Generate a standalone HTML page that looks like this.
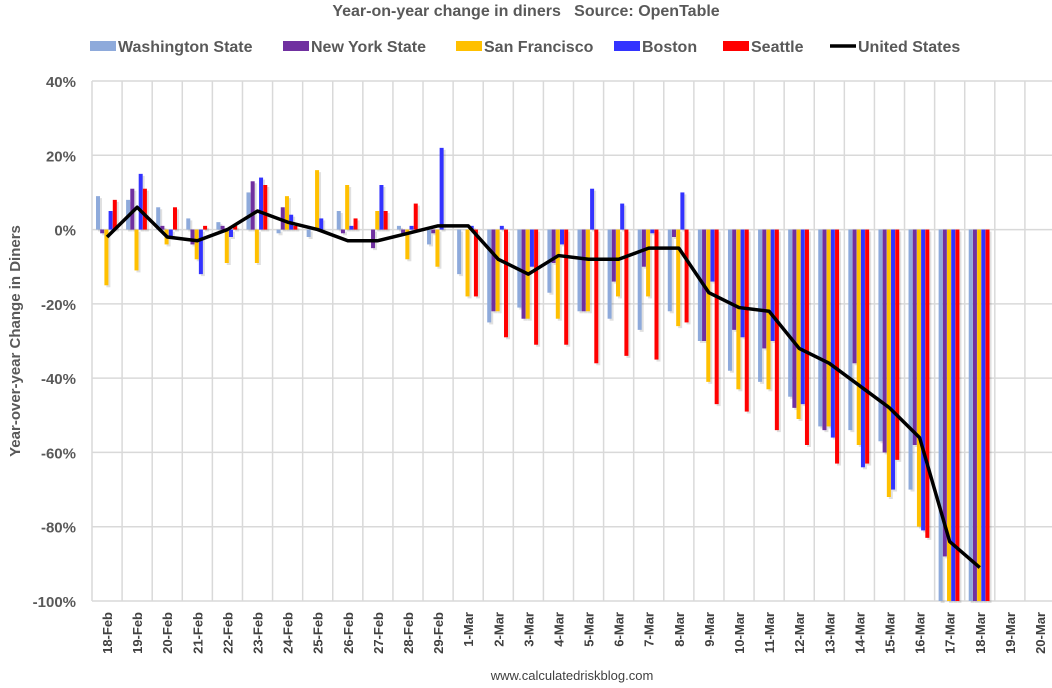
<!DOCTYPE html>
<html><head><meta charset="utf-8"><style>
body{margin:0;background:#fff;font-family:"Liberation Sans",sans-serif}
svg text{font-family:"Liberation Sans",sans-serif}
</style></head><body>
<svg id="c" width="1052" height="683">
<text x="526" y="16" text-anchor="middle" font-size="16" font-weight="bold" fill="#595959">Year-on-year change in diners&#160;&#160;&#160;Source: OpenTable</text>
<g id="legend"></g>
<g id="grid"></g><g id="bars"></g><g id="line"></g><g id="axes"></g>
<text transform="translate(20,341) rotate(-90)" text-anchor="middle" font-size="15" font-weight="bold" fill="#595959">Year-over-year Change in Diners</text>
<text x="572" y="680" text-anchor="middle" font-size="13" fill="#404040">www.calculatedriskblog.com</text>
</svg>
<script>
const categories=["18-Feb","19-Feb","20-Feb","21-Feb","22-Feb","23-Feb","24-Feb","25-Feb","26-Feb","27-Feb","28-Feb","29-Feb","1-Mar","2-Mar","3-Mar","4-Mar","5-Mar","6-Mar","7-Mar","8-Mar","9-Mar","10-Mar","11-Mar","12-Mar","13-Mar","14-Mar","15-Mar","16-Mar","17-Mar","18-Mar","19-Mar","20-Mar"];
const washington=[9,8,6,3,2,10,-1,-2,5,0,1,-4,-12,-25,-21,-17,-22,-24,-27,-22,-30,-38,-41,-45,-53,-54,-57,-70,-100,-100,null,null];
const newYork=[-1,11,1,-4,1,13,6,0,-1,-5,-1,-1,0,-22,-24,-9,-22,-14,-10,-2,-30,-27,-32,-48,-54,-36,-60,-58,-88,-100,null,null];
const sanFrancisco=[-15,-11,-4,-8,-9,-9,9,16,12,5,-8,-10,-18,-22,-24,-24,-22,-18,-18,-26,-41,-43,-43,-51,-53,-58,-72,-80,-100,-100,null,null];
const boston=[5,15,-2,-12,-2,14,4,3,1,12,1,22,1,1,-10,-4,11,7,-1,10,-14,-29,-30,-47,-56,-64,-70,-81,-100,-100,null,null];
const seattle=[8,11,6,1,1,12,1,0,3,5,7,0,-18,-29,-31,-31,-36,-34,-35,-25,-47,-49,-54,-58,-63,-63,-62,-83,-100,-100,null,null];
const unitedStates=[-2,6,-2,-3,0,5,2,0,-3,-3,-1,1,1,-8,-12,-7,-8,-8,-5,-5,-17,-21,-22,-32,-36,-42,-48,-56,-84,-91,null,null];
const yTicks=[40,20,0,-20,-40,-60,-80,-100];
const seriesNames=["Washington State","New York State","San Francisco","Boston","Seattle"];
const seriesColors=["#8eaadb","#7030a0","#ffc000","#3333ff","#ff0000"];
const seriesData=[washington,newYork,sanFrancisco,boston,seattle];
const NS="http://www.w3.org/2000/svg";
const L=92,R=1055,T=81,B=601;
const step=(R-L)/categories.length;
const x=i=>L+i*step;
const y=v=>T+(40-v)/140*(B-T);
function el(tag,attrs,parent){const e=document.createElementNS(NS,tag);for(const k in attrs)e.setAttribute(k,attrs[k]);parent.appendChild(e);return e;}
const grid=document.getElementById('grid'),axes=document.getElementById('axes'),bars=document.getElementById('bars'),line=document.getElementById('line'),legend=document.getElementById('legend');
yTicks.forEach(t=>{
 const g=el('line',{x1:L,x2:R,y1:y(t),y2:y(t),stroke:'#d9d9d9','stroke-width':1.5},grid);
 
 
 const tx=el('text',{x:76,y:y(t)+6,'text-anchor':'end','font-size':15,'font-weight':'bold',fill:'#595959'},axes);
 tx.textContent=t+'%';
 
 
});
for(let i=0;i<=categories.length;i++){
 const g=el('line',{x1:x(i),x2:x(i),y1:T,y2:B,stroke:'#d9d9d9','stroke-width':1.5},grid);
 
 
}
categories.forEach((c,i)=>{
 const cx=x(i)+step/2;
 const tx=el('text',{transform:`translate(${cx+5},612) rotate(-90)`,'text-anchor':'end','font-size':13,'font-weight':'bold',fill:'#404040'},axes);
 tx.textContent=c;
 
 
 seriesData.forEach((s,k)=>{
  const v=s[i]; if(v==null)return;
  const bx=x(i)+4+k*4.2;
  const y0=y(0),y1=y(v);
  const sh=el('rect',{x:bx+2,y:Math.min(y0,y1)+2,width:4,height:Math.abs(y1-y0),fill:'#000',opacity:0.12},bars);
  
  
  const r=el('rect',{x:bx,y:Math.min(y0,y1),width:4,height:Math.abs(y1-y0),fill:seriesColors[k]},bars);
  
  
 });
});
let pts=[];
unitedStates.forEach((v,i)=>{if(v!=null)pts.push((x(i)+step/2)+','+y(v));});
const pl=el('polyline',{points:pts.join(' '),fill:'none',stroke:'#000','stroke-width':3.5,'stroke-linejoin':'round'},line);


const legendX=[90,283,456,614,723,830];
const allNames=seriesNames.concat(["United States"]);
allNames.forEach((n,k)=>{
 const lx=legendX[k];
 let m;
 if(k<5){m=el('rect',{x:lx,y:41,width:26,height:10,fill:seriesColors[k]},legend);}
 else{m=el('line',{x1:lx,x2:lx+26,y1:46,y2:46,stroke:'#000','stroke-width':3.5},legend);}
 
 
 const t=el('text',{x:lx+28,y:52,'font-size':16,'font-weight':'bold',fill:'#595959'},legend);
 t.textContent=n;
 
 
});
</script>
</body></html>
